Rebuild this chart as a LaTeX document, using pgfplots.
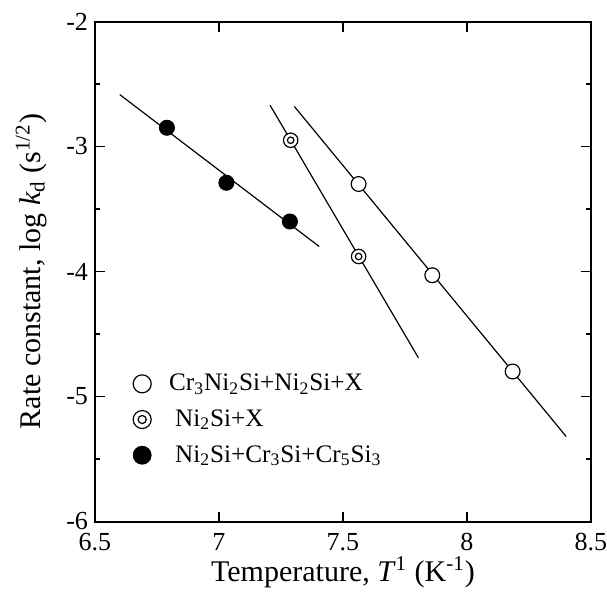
\documentclass[border=0pt]{standalone}
\usepackage{fontspec}
\setmainfont{Liberation Serif}
\usepackage{pgfplots}
\pgfplotsset{compat=1.18}

% concentric double circle, white filled
\pgfdeclareplotmark{dcirc}{%
  \pgfpathcircle{\pgfpointorigin}{\pgfplotmarksize}%
  \pgfsetfillcolor{white}\pgfusepathqfillstroke
  \pgfpathcircle{\pgfpointorigin}{0.45\pgfplotmarksize}%
  \pgfusepathqstroke}

\begin{document}
\begin{tikzpicture}
\path[use as bounding box] (-47.5pt,-35pt) rectangle (256pt,260.75pt);
\begin{axis}[scale only axis, width=248pt, height=250pt,
  at={(0,0)}, anchor=south west,
  xmin=6.5, xmax=8.5, ymin=-6, ymax=-2,
  xtick={6.5,7,7.5,8,8.5}, ytick={-6,-5,-4,-3,-2},
  xticklabel={\mbox{\rmfamily\pgfmathprintnumber[assume math mode=true]{\tick}}},
  yticklabel={\mbox{\rmfamily\pgfmathprintnumber[assume math mode=true]{\tick}}},
  minor y tick num=1,
  tick align=inside, major tick length=5pt, minor tick length=2.5pt,
  axis line style={line width=1pt}, tick style={line width=0.6pt,black},
  tick label style={font=\fontsize{13}{15}\selectfont\rmfamily},
  xticklabel style={yshift=-2.5pt},
  label style={font=\fontsize{15}{17}\selectfont},
  xlabel={Temperature, \textit{T}\textsuperscript{1} (K\textsuperscript{-1})},
  ylabel={Rate constant, log \textit{k}\textsubscript{d} (s\textsuperscript{1/2})},
  xlabel style={yshift=4pt},
  ylabel style={yshift=3pt},
  legend image code/.code={%
    \path[draw=none,fill=none] (0pt,0pt) -- (12.5pt,0pt);
    \draw[#1] plot coordinates {(0pt,0pt)};},
  legend style={draw=none, fill=none, inner sep=0pt, outer sep=0pt,
    at={(0.077,0.299)}, anchor=north west,
    nodes={inner sep=1pt},
    font=\fontsize{12.6}{15}\selectfont, row sep=6pt,
    legend cell align=left},
  clip=false]
 % fitted lines
 \addplot[forget plot, line width=0.6pt] coordinates {(6.60,-2.585) (7.404,-3.80)};
 \addplot[forget plot, line width=0.6pt] coordinates {(7.206,-2.67) (7.804,-4.69)};
 \addplot[forget plot, line width=0.6pt] coordinates {(7.304,-2.68) (8.40,-5.32)};
 % data
 \addplot[forget plot, only marks, mark=*, mark size=3.7pt, mark options={fill=white, line width=0.6pt}]
   coordinates {(7.563,-3.30) (7.86,-4.03) (8.184,-4.80)};
 \addplot[forget plot, only marks, mark=dcirc, mark size=3.6pt, mark options={line width=0.6pt}]
   coordinates {(7.289,-2.95) (7.563,-3.88)};
 \addplot[forget plot, only marks, mark=*, mark size=3.8pt, black]
   coordinates {(6.79,-2.85) (7.03,-3.29) (7.286,-3.60)};
 % legend entries
 \addlegendimage{only marks, mark=*, mark size=4.5pt, mark options={fill=white, line width=0.6pt}}
 \addlegendentry{Cr\textsubscript{3}Ni\textsubscript{2}Si+Ni\textsubscript{2}Si+X}
 \addlegendimage{only marks, mark=dcirc, mark size=4.5pt, mark options={line width=0.6pt}}
 \addlegendentry{\hspace{3pt}Ni\textsubscript{2}Si+X}
 \addlegendimage{only marks, mark=*, mark size=4.5pt, black}
 \addlegendentry{\hspace{3pt}Ni\textsubscript{2}Si+Cr\textsubscript{3}Si+Cr\textsubscript{5}Si\textsubscript{3}}
\end{axis}
\end{tikzpicture}
\end{document}
